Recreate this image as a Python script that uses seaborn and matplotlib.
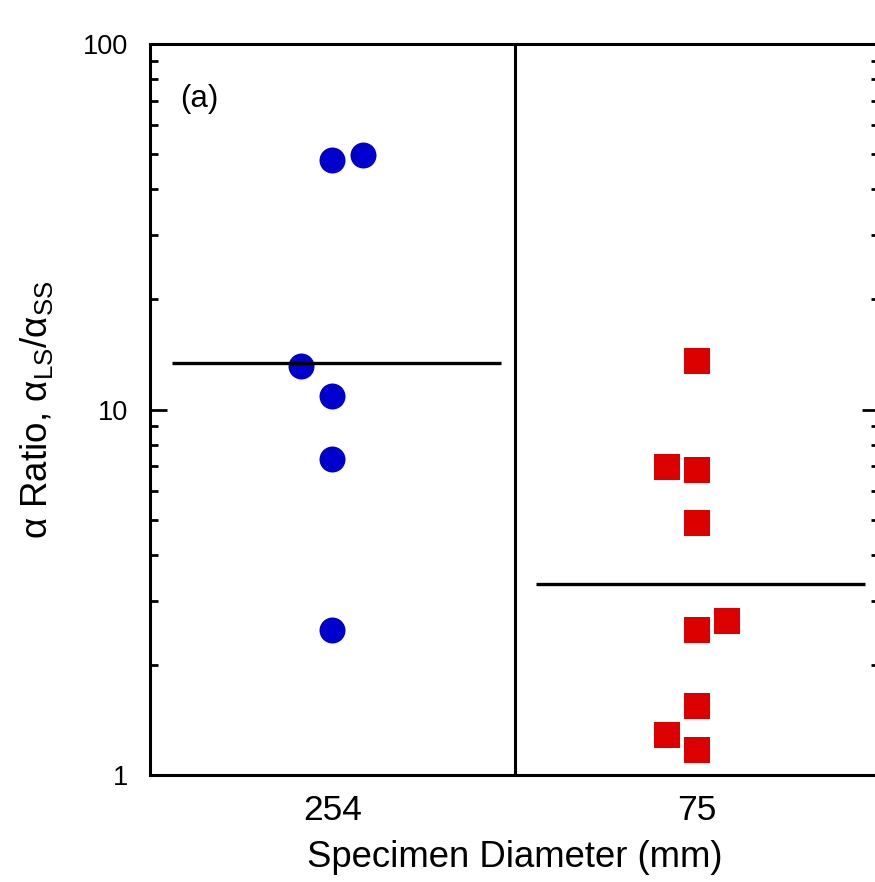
import numpy as np
import pandas as pd
import matplotlib
matplotlib.use("Agg")
import matplotlib.pyplot as plt
import seaborn as sns

# ---- data ----
categories = ["254", "75"]
ratio_254 = [48.2, 49.6, 13.16, 10.9, 7.3, 2.50]
offset_254 = [0.0, 0.083, -0.085, 0.0, 0.0, 0.0]
ratio_75 = [13.6, 6.94, 6.83, 4.88, 2.64, 2.50, 1.54, 1.29, 1.17]
offset_75 = [0.0, -0.082, 0.0, 0.0, 0.082, 0.0, 0.0, -0.082, 0.0]
mean_254 = 13.39
mean_75 = 3.33

sns.set_theme(style="white")
plt.rcParams["font.family"] = ["Liberation Sans", "DejaVu Sans"]
plt.rcParams["mathtext.fontset"] = "custom"
plt.rcParams["mathtext.rm"] = "Liberation Sans"
plt.rcParams["mathtext.it"] = "Liberation Sans"
plt.rcParams["text.color"] = "black"
plt.rcParams["axes.labelcolor"] = "black"
plt.rcParams["xtick.color"] = "black"
plt.rcParams["ytick.color"] = "black"

df254 = pd.DataFrame({"x": 0 + np.array(offset_254), "y": ratio_254})
df75 = pd.DataFrame({"x": 1 + np.array(offset_75), "y": ratio_75})

fig = plt.figure(figsize=(8.75, 8.82), dpi=100)
ax = fig.add_axes([150 / 875, 107 / 882, 729 / 875, 731 / 882])

sns.scatterplot(data=df254, x="x", y="y", ax=ax, marker="o", s=350,
                color="#0000CC", linewidth=0, zorder=3)
sns.scatterplot(data=df75, x="x", y="y", ax=ax, marker="s", s=370,
                color="#DD0000", linewidth=0, zorder=3)

ax.set_yscale("log")
ax.set_ylim(1, 100)
ax.set_xlim(-0.5, 1.5)

# mean lines
for i, m in enumerate([mean_254, mean_75]):
    ax.plot([i - 0.44, i + 0.462], [m, m], color="black", lw=2.4, zorder=4,
            solid_capstyle="butt")
ax.axvline(0.5, color="black", lw=2.2, zorder=4)

ax.set_xticks([0, 1])
ax.set_xticklabels(categories, fontsize=25.5)
ax.set_yticks([1, 10, 100])
ax.set_yticklabels(["1", "10", "100"], fontsize=19.5)
ax.tick_params(axis="x", length=0, pad=14)
ax.tick_params(axis="y", which="major", direction="in", length=12, width=2,
               left=True, right=True, pad=16)
ax.tick_params(axis="y", which="minor", direction="in", length=6, width=2,
               left=True, right=True)
ax.yaxis.set_minor_formatter(matplotlib.ticker.NullFormatter())

for sp in ax.spines.values():
    sp.set_color("black")
    sp.set_linewidth(2.2)

ax.set_xlabel("Specimen Diameter (mm)", fontsize=26.3, labelpad=9)
ax.set_ylabel(r"α Ratio, α$_{\rm LS}$/α$_{\rm SS}$", fontsize=26.5)
ax.yaxis.set_label_coords((18 - 150) / 729, 0.5)
ax.yaxis.label.set_va("top")
ax.text(0.041, 0.925, "(a)", transform=ax.transAxes, fontsize=22.5,
        ha="left", va="center")

fig.savefig("out.png", dpi=100)
